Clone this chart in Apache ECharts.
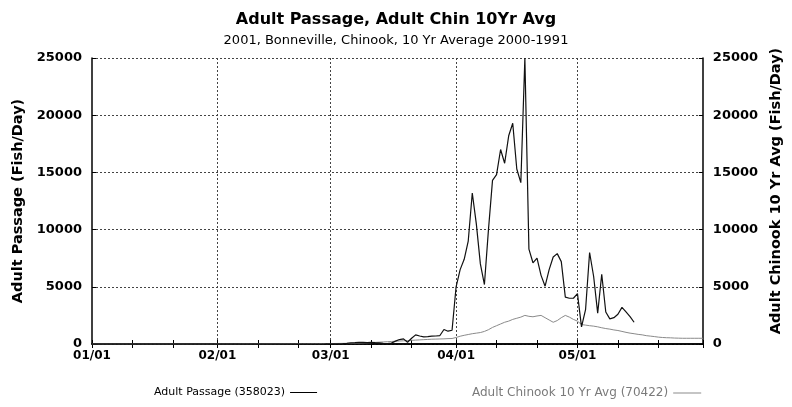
<!DOCTYPE html>
<html>
<head>
<meta charset="utf-8">
<script src="https://cdn.jsdelivr.net/npm/echarts@6/dist/echarts.min.js"></script>
<style>html,body{margin:0;padding:0;background:#fff}#c{width:792px;height:407px}</style>
</head>
<body>
<div id="c"></div>
<script>
// ---- data ----
const startDate = '2001-01-01';
const dayCount = 152; // 01/01 .. 06/01
const monthTickLabels = ['01/01', '02/01', '03/01', '04/01', '05/01'];
const minorTickDays = ['01', '11', '21'];
const yTicks = [0, 5000, 10000, 15000, 20000, 25000];

// Adult Passage, daily from 01/01 (fish/day)
const passage = [
  // Jan
  0,0,0,0,0,0,0,0,0,0, 0,0,0,0,0,0,0,0,0,0, 0,0,0,0,0,0,0,0,0,0,0,
  // Feb
  0,0,0,0,0,0,0,0,0,0, 0,0,0,0,0,0,0,0,0,0, 0,0,0,0,0,0,0,5,
  // Mar
  5,10,20,30,60,100,120,150,140,130, 150,120,100,60,40,80,250,390,450,150,
  500,800,700,630,650,680,700,740,1270,1120,1200,
  // Apr
  5000,6500,7400,9000,13200,10500,7000,5200,10000,14300,
  14800,17000,15800,18200,19300,15300,14100,25000,8300,7100,
  7500,6000,5050,6500,7600,7900,7200,4100,4000,4000,
  // May
  4400,1500,3000,8000,5900,2700,6100,2800,2200,2300,
  2600,3200,2800,2400,1900
];

// Adult Chinook 10 Yr Avg, daily from 01/01 (fish/day)
const avg10 = [
  // Jan
  0,0,0,0,0,0,0,0,0,0, 0,0,0,0,0,0,0,0,0,0, 0,0,0,0,0,0,0,0,0,0,0,
  // Feb
  5,5,5,5,5,5,10,10,10,10, 10,10,15,15,15,15,20,20,20,20, 25,25,25,30,30,30,35,35,
  // Mar
  40,45,50,55,60,70,80,90,100,110, 120,140,160,180,200,220,240,260,280,300,
  320,340,360,380,400,420,430,440,450,470,480,
  // Apr
  570,680,760,830,900,950,1000,1100,1250,1450,
  1600,1750,1900,2000,2150,2250,2350,2500,2420,2380,
  2450,2500,2300,2100,1900,2050,2300,2500,2350,2150,
  // May
  2000,1700,1650,1600,1560,1500,1420,1350,1300,1230,
  1180,1100,1020,950,900,840,800,730,690,650,
  600,570,550,540,520,510,500,500,500,500,500,
  // Jun 1
  500
];

const passageName = 'Adult Passage (358023)';
const avgName = 'Adult Chinook 10 Yr Avg (70422)';

// ---- build categories (MM/DD) ----
const categories = [];
{
  const d0 = new Date(startDate + 'T00:00:00Z');
  for (let i = 0; i < dayCount; i++) {
    const d = new Date(d0.getTime() + i * 86400000);
    const mm = String(d.getUTCMonth() + 1).padStart(2, '0');
    const dd = String(d.getUTCDate()).padStart(2, '0');
    categories.push(mm + '/' + dd);
  }
}

const FONT = 'DejaVu Sans';
const isMonth = (i) => categories[i].slice(3) === '01';
const isMinor = (i) => minorTickDays.indexOf(categories[i].slice(3)) >= 0;
const plain = (v) => String(v);

const chart = echarts.init(document.getElementById('c'), null, {renderer: 'canvas'});
chart.setOption({
  backgroundColor: '#fff',
  animation: false,
  title: [
    {text: 'Adult Passage, Adult Chin 10Yr Avg', left: 'center', top: 7,
     textStyle: {fontFamily: FONT, fontSize: 16, fontWeight: 'bold', color: '#000'}},
    {text: '2001, Bonneville, Chinook, 10 Yr Average 2000-1991', left: 'center', top: 29,
     textStyle: {fontFamily: FONT, fontSize: 13, fontWeight: 'normal', color: '#000'}}
  ],
  legend: [
    {data: [passageName], left: 149, top: 382, align: 'right', icon: 'rect',
     itemWidth: 27, itemHeight: 1, itemGap: 6,
     textStyle: {fontFamily: FONT, fontSize: 11, color: '#000'}},
    {data: [avgName], left: 467, top: 382, align: 'right', icon: 'rect',
     itemWidth: 28, itemHeight: 1, itemGap: 5,
     textStyle: {fontFamily: FONT, fontSize: 12, color: '#7a7a7a'}}
  ],
  grid: {left: 92, right: 82, top: 58, bottom: 63, containLabel: false},
  xAxis: [
    {type: 'category', data: categories, boundaryGap: false, position: 'bottom',
     axisLine: {show: true, lineStyle: {color: '#000', width: 1.5}},
     axisTick: {show: true, inside: true, length: 4, interval: (i) => isMinor(i), lineStyle: {color: '#000'}},
     axisLabel: {show: true, interval: (i) => monthTickLabels.indexOf(categories[i]) >= 0,
       fontFamily: FONT, fontSize: 12, fontWeight: 'bold', color: '#000', margin: 6},
     splitLine: {show: true, interval: (i) => isMonth(i) && i > 0 && i < dayCount - 1,
       lineStyle: {color: '#444', type: [2, 2], width: 1}}},
    {type: 'category', data: categories, boundaryGap: false, position: 'top',
     axisLine: {show: true, lineStyle: {color: '#000', width: 1.5}},
     axisTick: {show: true, inside: true, length: 4, interval: (i) => isMinor(i), lineStyle: {color: '#000'}},
     axisLabel: {show: false}, splitLine: {show: false}}
  ],
  yAxis: [
    {type: 'value', min: yTicks[0], max: yTicks[yTicks.length - 1], interval: 5000, position: 'left',
     name: 'Adult Passage (Fish/Day)', nameLocation: 'middle', nameGap: 60, nameRotate: 90,
     nameTextStyle: {fontFamily: FONT, fontSize: 14.5, fontWeight: 'bold', color: '#000'},
     axisLine: {show: true, lineStyle: {color: '#000', width: 1.5}},
     axisTick: {show: true, inside: true, length: 4, lineStyle: {color: '#000'}},
     axisLabel: {fontFamily: FONT, fontSize: 13, fontWeight: 'bold', color: '#000', margin: 10, formatter: plain},
     splitLine: {show: true, lineStyle: {color: '#444', type: [2, 2], width: 1}}},
    {type: 'value', min: yTicks[0], max: yTicks[yTicks.length - 1], interval: 5000, position: 'right',
     name: 'Adult Chinook 10 Yr Avg (Fish/Day)', nameLocation: 'middle', nameGap: 58, nameRotate: 90,
     nameTextStyle: {fontFamily: FONT, fontSize: 14.5, fontWeight: 'bold', color: '#000', padding: [0, 0, 0, 20]},
     axisLine: {show: true, lineStyle: {color: '#000', width: 1.5}},
     axisTick: {show: true, inside: true, length: 4, lineStyle: {color: '#000'}},
     axisLabel: {fontFamily: FONT, fontSize: 13, fontWeight: 'bold', color: '#000', margin: 10, formatter: plain},
     splitLine: {show: false}}
  ],
  series: [
    {name: avgName, type: 'line', data: avg10, xAxisIndex: 0, yAxisIndex: 1,
     showSymbol: false, symbol: 'none', color: '#8a8a8a',
     lineStyle: {color: '#8a8a8a', width: 1}, z: 2},
    {name: passageName, type: 'line', data: passage, xAxisIndex: 0, yAxisIndex: 0,
     showSymbol: false, symbol: 'none', color: '#000',
     lineStyle: {color: '#111', width: 1.2}, z: 3}
  ]
});
</script>
</body>
</html>
